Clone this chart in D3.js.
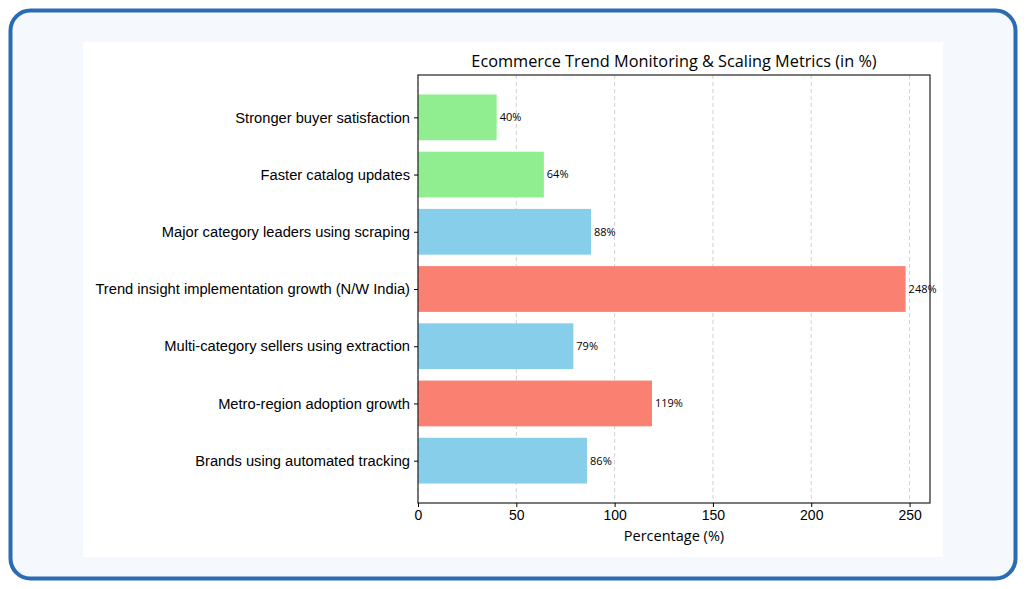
<!DOCTYPE html>
<html>
<head>
<meta charset="utf-8">
<script src="https://cdn.jsdelivr.net/npm/d3@7"></script>
<style>
  html, body { margin: 0; padding: 0; background: #ffffff; }
  svg { display: block; font-family: "Open Sans", "Inter", sans-serif; }
</style>
</head>
<body>
<div id="chart"></div>
<script>
// chart data (top to bottom)
const categories = [
  "Stronger buyer satisfaction",
  "Faster catalog updates",
  "Major category leaders using scraping",
  "Trend insight implementation growth (N/W India)",
  "Multi-category sellers using extraction",
  "Metro-region adoption growth",
  "Brands using automated tracking"
];
const values = [40, 64, 88, 248, 79, 119, 86];
const barColors = ["#90ee90", "#90ee90", "#87ceeb", "#fa8072", "#87ceeb", "#fa8072", "#87ceeb"];
const xTicks = [0, 50, 100, 150, 200, 250];

const W = 1026, H = 589;
const svg = d3.select("#chart").append("svg")
    .attr("width", W)
    .attr("height", H);

// card frame
svg.append("rect")
    .attr("x", 10.5).attr("y", 10.5)
    .attr("width", 1005).attr("height", 568)
    .attr("rx", 20)
    .attr("fill", "#f5f8fc")
    .attr("stroke", "#2a6cb3")
    .attr("stroke-width", 4);

svg.append("rect")
    .attr("x", 83).attr("y", 42)
    .attr("width", 860).attr("height", 515)
    .attr("fill", "#ffffff");

// plot area
const pLeft = 418, pRight = 930, pTop = 75, pBottom = 503;

let x = d3.scaleLinear()
    .domain([0, d3.max(values) * 1.05])
    .range([pLeft, pRight]);

// matplotlib-like limits: bars 0.8 high, 5% margin
let n = categories.length;
let y = d3.scaleLinear()
    .domain([-0.4 - 0.34, n - 1 + 0.4 + 0.34])
    .range([pTop, pBottom]);

// grid
svg.append("g").selectAll("line")
    .data(xTicks)
    .enter().append("line")
    .attr("x1", d => x(d)).attr("x2", d => x(d))
    .attr("y1", pTop).attr("y2", pBottom)
    .attr("stroke", "#b0b0b0")
    .attr("stroke-width", 0.8)
    .attr("stroke-dasharray", "4,3")
    .attr("opacity", 0.7);

// bars
svg.append("g").selectAll("rect")
    .data(values)
    .enter().append("rect")
    .attr("x", x(0))
    .attr("y", (d, i) => y(i - 0.4))
    .attr("width", d => x(d) - x(0))
    .attr("height", y(0.4) - y(-0.4))
    .attr("fill", (d, i) => barColors[i]);

// value labels
svg.append("g").selectAll("text")
    .data(values)
    .enter().append("text")
    .attr("x", d => x(d) + 3)
    .attr("y", (d, i) => y(i))
    .attr("dy", "0.35em")
    .style("font-size", "11px")
    .attr("fill", "#000")
    .text(d => d + "%");

// frame
svg.append("rect")
    .attr("x", pLeft).attr("y", pTop)
    .attr("width", pRight - pLeft).attr("height", pBottom - pTop)
    .attr("fill", "none")
    .attr("stroke", "#222")
    .attr("stroke-width", 1.2);

// x axis
let xAxis = svg.append("g")
    .attr("transform", `translate(0,${pBottom})`)
    .call(d3.axisBottom(x).tickValues(xTicks).tickSize(4).tickPadding(3).tickFormat(d3.format("d")));
xAxis.select(".domain").remove();
xAxis.selectAll("text").style("font-size", "14px").attr("fill", "#000").style("font-family", "inherit");

// y axis
let yAxis = svg.append("g")
    .attr("transform", `translate(${pLeft},0)`)
    .call(d3.axisLeft(y).tickValues(d3.range(n)).tickSize(4).tickPadding(4).tickFormat(i => categories[i]));
yAxis.select(".domain").remove();
yAxis.selectAll("text").style("font-size", "14.7px").attr("fill", "#000").style("font-family", "inherit");

// labels
svg.append("text")
    .attr("x", (pLeft + pRight) / 2).attr("y", 541)
    .style("text-anchor", "middle")
    .style("font-size", "14.5px")
    .attr("fill", "#000")
    .text("Percentage (%)");

svg.append("text")
    .attr("x", (pLeft + pRight) / 2).attr("y", 67)
    .style("text-anchor", "middle")
    .style("font-size", "16.3px")
    .attr("fill", "#000")
    .text("Ecommerce Trend Monitoring & Scaling Metrics (in %)");
</script>
</body>
</html>
